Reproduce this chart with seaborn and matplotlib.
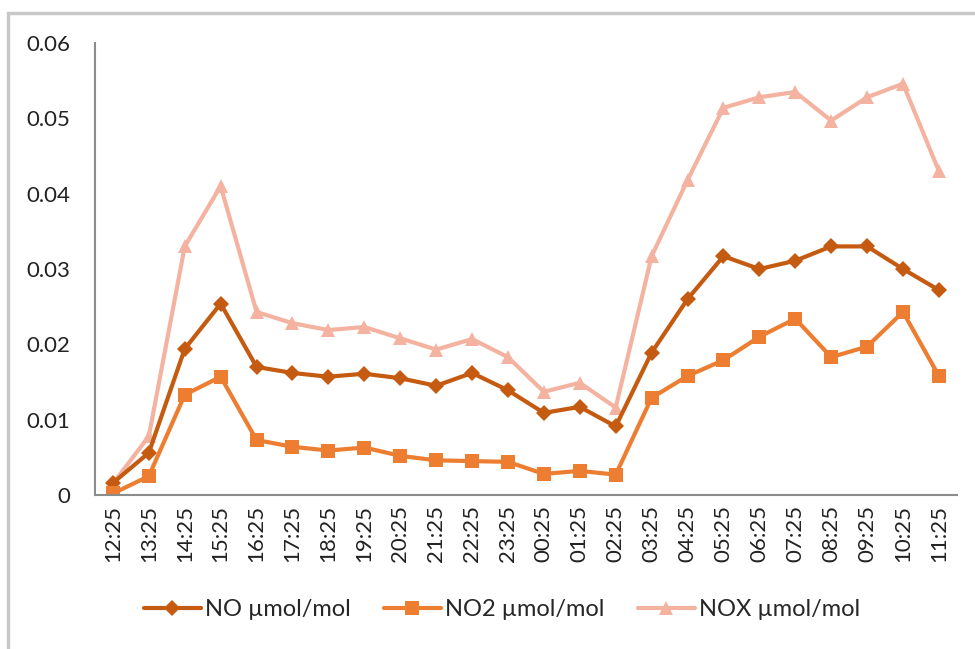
import numpy as np
import pandas as pd
import matplotlib
matplotlib.use("Agg")
import matplotlib.pyplot as plt
import seaborn as sns
from matplotlib.patches import Rectangle

times = ["12:25", "13:25", "14:25", "15:25", "16:25", "17:25", "18:25", "19:25",
         "20:25", "21:25", "22:25", "23:25", "00:25", "01:25", "02:25", "03:25",
         "04:25", "05:25", "06:25", "07:25", "08:25", "09:25", "10:25", "11:25"]

no_vals = [0.0016, 0.0056, 0.0194, 0.0254, 0.0170, 0.0162, 0.0157, 0.0161,
           0.0155, 0.0145, 0.0162, 0.0139, 0.0109, 0.0117, 0.0091, 0.0189,
           0.0260, 0.0317, 0.0300, 0.0311, 0.0330, 0.0330, 0.0300, 0.0272]

no2_vals = [0.0002, 0.0025, 0.0133, 0.0157, 0.0073, 0.0064, 0.0059, 0.0063,
            0.0052, 0.0046, 0.0045, 0.0044, 0.0028, 0.0032, 0.0027, 0.0129,
            0.0158, 0.0179, 0.0210, 0.0234, 0.0183, 0.0197, 0.0243, 0.0158]

nox_vals = [0.0015, 0.0078, 0.0330, 0.0410, 0.0243, 0.0228, 0.0219, 0.0223,
            0.0208, 0.0193, 0.0207, 0.0183, 0.0137, 0.0149, 0.0116, 0.0317,
            0.0418, 0.0514, 0.0528, 0.0535, 0.0497, 0.0528, 0.0546, 0.0430]

series_names = ["NO \u00b5mol/mol", "NO2 \u00b5mol/mol", "NOX \u00b5mol/mol"]
y_ticks = [0, 0.01, 0.02, 0.03, 0.04, 0.05, 0.06]
y_tick_labels = ["0", "0.01", "0.02", "0.03", "0.04", "0.05", "0.06"]

colors = {series_names[0]: "#C55A11", series_names[1]: "#ED7D31", series_names[2]: "#F4B3A0"}
markers = {series_names[0]: "D", series_names[1]: "s", series_names[2]: "^"}
msizes = {series_names[0]: 8, series_names[1]: 10, series_names[2]: 10}

rows = []
for name, vals in zip(series_names, [no_vals, no2_vals, nox_vals]):
    for i, (t, v) in enumerate(zip(times, vals)):
        rows.append({"idx": i, "time": t, "value": v, "series": name})
df = pd.DataFrame(rows)

sns.set_theme(style="white")
plt.rcParams["font.family"] = ["Lato", "DejaVu Sans"]

fig = plt.figure(figsize=(9.75, 6.49), dpi=100)
ax = fig.add_axes([0.0974, 0.2373, 0.884, 0.6964])

# draw NOX first (behind), then NO, then NO2
for name in [series_names[2], series_names[0], series_names[1]]:
    sub = df[df["series"] == name]
    sns.lineplot(data=sub, x="idx", y="value", ax=ax, color=colors[name],
                 marker=markers[name], markersize=msizes[name],
                 markeredgewidth=0, linewidth=3, label=name, sort=False)

ax.set_xlim(-0.5, len(times) - 0.5)
ax.set_ylim(0, 0.06)
ax.set_xticks(range(len(times)))
ax.set_xticklabels(times, rotation=90, fontsize=16, color="#222222")
ax.set_yticks(y_ticks)
ax.set_yticklabels(y_tick_labels, fontsize=16, color="#222222")
ax.tick_params(axis="both", length=0)
ax.tick_params(axis="x", pad=7)
ax.tick_params(axis="y", pad=18)
ax.set_xlabel("")
ax.set_ylabel("")
for s in ["top", "right"]:
    ax.spines[s].set_visible(False)
for s in ["left", "bottom"]:
    ax.spines[s].set_color("#8c8c8c")
    ax.spines[s].set_linewidth(1.5)
ax.grid(False)

handles, labels = ax.get_legend_handles_labels()
order = [labels.index(n) for n in series_names]
ax.legend([handles[i] for i in order], [labels[i] for i in order],
          loc="center", bbox_to_anchor=(0.515, 1 - 610 / 649),
          bbox_transform=fig.transFigure, ncol=3, frameon=False,
          fontsize=17, handlelength=2.4, columnspacing=1.4, handletextpad=0.2)

fig.patches.append(Rectangle((8 / 975, -0.1), 1.2, 1 - 13 / 649 + 0.1,
                             transform=fig.transFigure, fill=False,
                             edgecolor="#c8c8c8", linewidth=2.5))

fig.savefig("out.png", dpi=100)
